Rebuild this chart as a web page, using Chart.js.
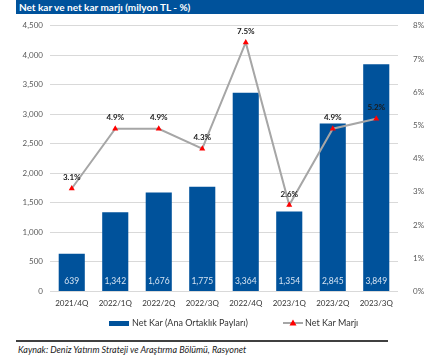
<!doctype html>
<html lang="tr">
<head>
<meta charset="UTF-8">
<title>Net kar ve net kar marjı</title>
<script src="https://cdn.jsdelivr.net/npm/chart.js@4/dist/chart.umd.min.js"></script>
<style>
  body { margin: 0; background: #fff; font-family: Lato, "Open Sans", sans-serif; }
  #wrap { position: relative; width: 442px; height: 360px; }
  #title { position: absolute; left: 16px; top: 0; width: 408px; height: 14px; background: #00529b;
           color: #fff; font-weight: bold; font-size: 10px; line-height: 14px; padding-left: 3px; box-sizing: border-box; }
  #chartBox { position: absolute; left: 0; top: 14px; width: 442px; height: 322px; }
  #rule { position: absolute; left: 16px; top: 340px; width: 372px; height: 2px; background: #404040; }
  #source { position: absolute; left: 18px; top: 344px; font-size: 9px; font-style: italic; color: #222; }
</style>
</head>
<body>
<div id="wrap">
  <div id="title">Net kar ve net kar marjı (milyon TL - %)</div>
  <div id="chartBox"><canvas id="c" width="442" height="322"></canvas></div>
  <div id="rule"></div>
  <div id="source">Kaynak: Deniz Yatırım Strateji ve Araştırma Bölümü, Rasyonet</div>
</div>
<script>
const quarters = ['2021/4Q', '2022/1Q', '2022/2Q', '2022/3Q', '2022/4Q', '2023/1Q', '2023/2Q', '2023/3Q'];
const netProfit = [639, 1342, 1676, 1775, 3364, 1354, 2845, 3849];
const netMargin = [3.1, 4.9, 4.9, 4.3, 7.5, 2.6, 4.9, 5.2];

const BLUE = '#00529b';
const GREY = '#a6a6a6';
const RED = '#ff0000';
const FONT = 'Lato, "Open Sans", sans-serif';

// value labels: bar totals near the bottom of each bar, margins above the points
const valueLabels = {
  id: 'valueLabels',
  afterDatasetsDraw(chart) {
    const ctx = chart.ctx;
    ctx.save();
    ctx.textAlign = 'center';
    ctx.textBaseline = 'middle';
    const bars = chart.getDatasetMeta(1).data;
    ctx.font = '8.5px ' + FONT;
    ctx.fillStyle = '#d6e4f2';
    bars.forEach((b, i) => {
      ctx.fillText(netProfit[i].toLocaleString('en-US'), b.x, b.base - 10);
    });
    const pts = chart.getDatasetMeta(0).data;
    ctx.font = 'bold 8px ' + FONT;
    ctx.fillStyle = '#1a1a1a';
    pts.forEach((p, i) => {
      ctx.fillText(netMargin[i].toFixed(1) + '%', p.x, p.y - 11);
    });
    ctx.restore();
  }
};

// legend drawn under the x axis
const bottomLegend = {
  id: 'bottomLegend',
  afterDraw(chart) {
    const ctx = chart.ctx;
    const y = 309;
    ctx.save();
    ctx.font = '9px ' + FONT;
    ctx.textBaseline = 'middle';
    ctx.fillStyle = BLUE;
    ctx.fillRect(109, y - 2, 20, 5);
    ctx.fillStyle = '#333';
    ctx.fillText('Net Kar (Ana Ortaklık Payları)', 132, y);
    ctx.strokeStyle = GREY;
    ctx.lineWidth = 2;
    ctx.beginPath();
    ctx.moveTo(283, y);
    ctx.lineTo(303, y);
    ctx.stroke();
    ctx.fillStyle = RED;
    ctx.beginPath();
    ctx.moveTo(293, y - 3.5);
    ctx.lineTo(296.5, y + 2.5);
    ctx.lineTo(289.5, y + 2.5);
    ctx.closePath();
    ctx.fill();
    ctx.fillStyle = '#333';
    ctx.fillText('Net Kar Marjı', 305, y);
    ctx.restore();
  }
};

new Chart(document.getElementById('c'), {
  data: {
    labels: quarters,
    datasets: [
      {
        type: 'line',
        label: 'Net Kar Marjı',
        data: netMargin,
        yAxisID: 'y1',
        borderColor: GREY,
        borderWidth: 2,
        pointStyle: 'triangle',
        pointRadius: 3.5,
        pointBackgroundColor: RED,
        pointBorderColor: RED,
        pointBorderWidth: 0,
        order: 0
      },
      {
        type: 'bar',
        label: 'Net Kar (Ana Ortaklık Payları)',
        data: netProfit,
        yAxisID: 'y',
        backgroundColor: BLUE,
        barPercentage: 0.6,
        categoryPercentage: 1,
        order: 1
      }
    ]
  },
  plugins: [valueLabels, bottomLegend],
  options: {
    responsive: false,
    animation: false,
    layout: { padding: { top: 9, bottom: 21, left: 0, right: 0 } },
    plugins: { legend: { display: false }, tooltip: { enabled: false } },
    scales: {
      x: {
        grid: { display: false, drawTicks: false },
        border: { display: false },
        ticks: { color: '#333', font: { family: FONT, size: 8 }, maxRotation: 0, padding: 7 }
      },
      y: {
        position: 'left',
        min: 0, max: 4500,
        afterFit(s) { s.width = 50; },
        border: { display: false },
        grid: { color: '#d9d9d9', lineWidth: 1, drawTicks: false },
        ticks: {
          stepSize: 500, padding: 7, color: '#595959',
          font: { family: FONT, size: 8 },
          callback: v => v.toLocaleString('en-US')
        }
      },
      y1: {
        position: 'right',
        min: 0, max: 8,
        afterFit(s) { s.width = 44; },
        border: { display: false },
        grid: { display: false },
        ticks: { stepSize: 1, padding: 7, color: '#595959', font: { family: FONT, size: 8 }, callback: v => v + '%' }
      }
    }
  }
});
</script>
</body>
</html>
